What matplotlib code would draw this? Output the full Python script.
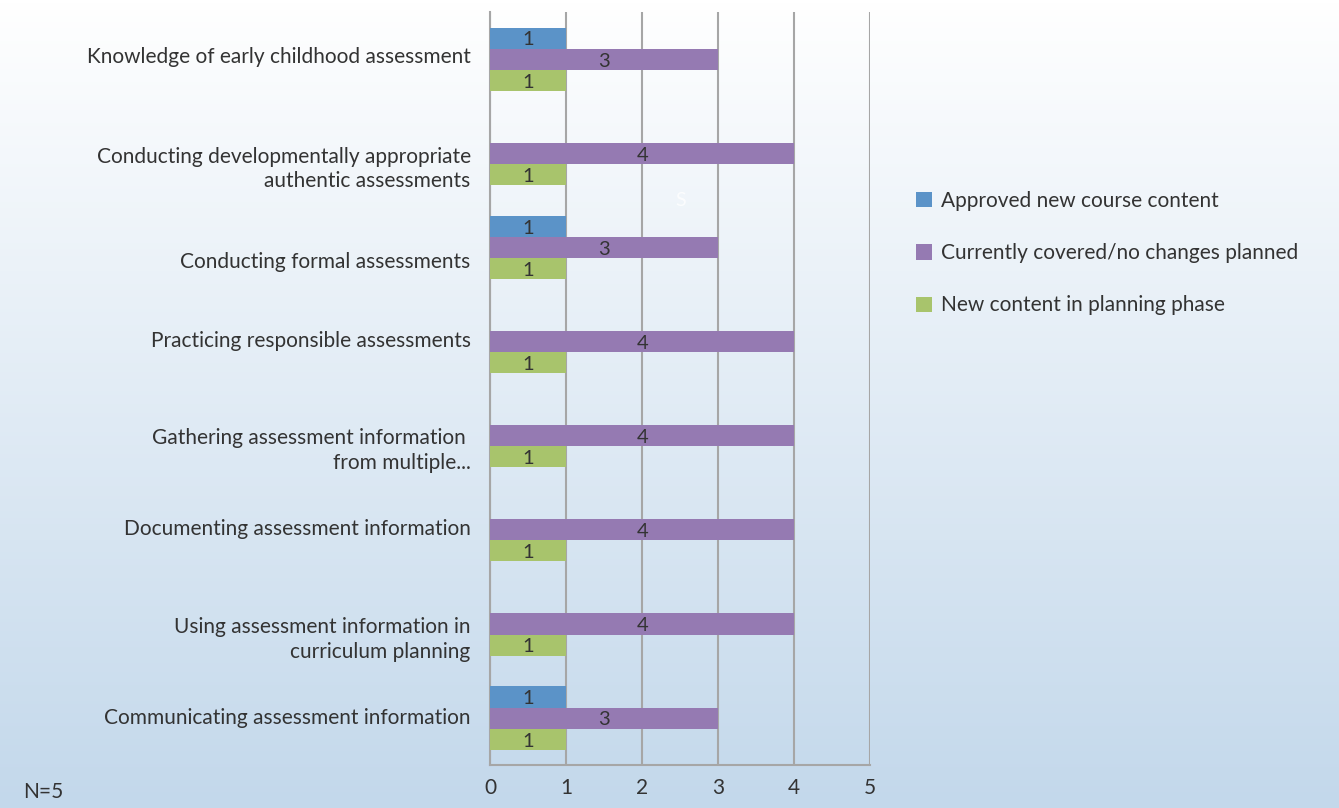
import numpy as np
import matplotlib.pyplot as plt
from matplotlib.colors import LinearSegmentedColormap

categories = ['Knowledge of early childhood assessment',
              'Conducting developmentally appropriate\nauthentic assessments',
              'Conducting formal assessments',
              'Practicing responsible assessments',
              'Gathering assessment information \nfrom multiple...',
              'Documenting assessment information',
              'Using assessment information in\ncurriculum planning',
              'Communicating assessment information']
approved = [1, 0, 1, 0, 0, 0, 0, 1]
covered = [3, 4, 3, 4, 4, 4, 4, 3]
planning = [1, 1, 1, 1, 1, 1, 1, 1]
series_names = ['Approved new course content',
                'Currently covered/no changes planned',
                'New content in planning phase']
colors = ['#5b93c8', '#957ab2', '#a8c46c']

plt.rcParams['font.family'] = ['Lato', 'DejaVu Sans']

fig = plt.figure(figsize=(13.39, 8.08), dpi=100)

# gradient background
bg = fig.add_axes([0, 0, 1, 1], zorder=-10)
grad = np.linspace(0, 1, 256).reshape(-1, 1)
cmap = LinearSegmentedColormap.from_list('bg', ['#ffffff', '#c3d8eb'])
bg.imshow(grad, aspect='auto', cmap=cmap, extent=[0, 1, 0, 1])
bg.axis('off')

ax = fig.add_axes([0.366, 0.053, 0.284, 0.932])
ax.patch.set_alpha(0)

y = np.arange(len(categories))
h = 0.224
text_col = '#333333'
for i, (vals, col, name) in enumerate(zip([approved, covered, planning], colors, series_names)):
    pos = y + (i - 1) * h
    ax.barh(pos, vals, height=h, color=col, label=name, zorder=3)
    for p, v in zip(pos, vals):
        if v > 0:
            ax.text(v / 2, p + 0.02, str(v), ha='center', va='center', fontsize=14.5,
                    color=text_col, zorder=4)

# category labels sit slightly off-centre in the original
label_nudge = [-0.04, 0.12, 0.13, -0.03, 0.11, -0.03, 0.12, -0.02]

ax.set_xlim(0, 5)
ax.set_ylim(len(categories) - 0.5, -0.5)
ax.set_xticks(range(6))
ax.set_yticks(y + np.array(label_nudge))
ax.set_yticklabels(categories, fontsize=15, color=text_col, linespacing=1.3)
ax.tick_params(axis='y', length=0, pad=14)
ax.tick_params(axis='x', length=0, pad=9, labelsize=15, labelcolor=text_col)
ax.grid(axis='x', color='#a6a6a6', linewidth=1.5, zorder=0)
for s in ['top', 'right']:
    ax.spines[s].set_visible(False)
ax.spines['left'].set_color('#a6a6a6')
ax.spines['left'].set_linewidth(1.5)
ax.spines['bottom'].set_color('#a6a6a6')
ax.spines['bottom'].set_linewidth(1.5)

ax.text(2.5, 1.5, 'S', color='white', fontsize=14, ha='center', va='center', alpha=0.8)

fig.legend(loc='upper left', bbox_to_anchor=(0.670, 0.787), frameon=False, fontsize=15,
           handlelength=0.75, handleheight=0.75, handletextpad=0.45, labelspacing=1.55,
           labelcolor=text_col)

fig.text(0.017, 0.012, 'N=5', fontsize=15, color=text_col)

fig.savefig('out.png', dpi=100)
